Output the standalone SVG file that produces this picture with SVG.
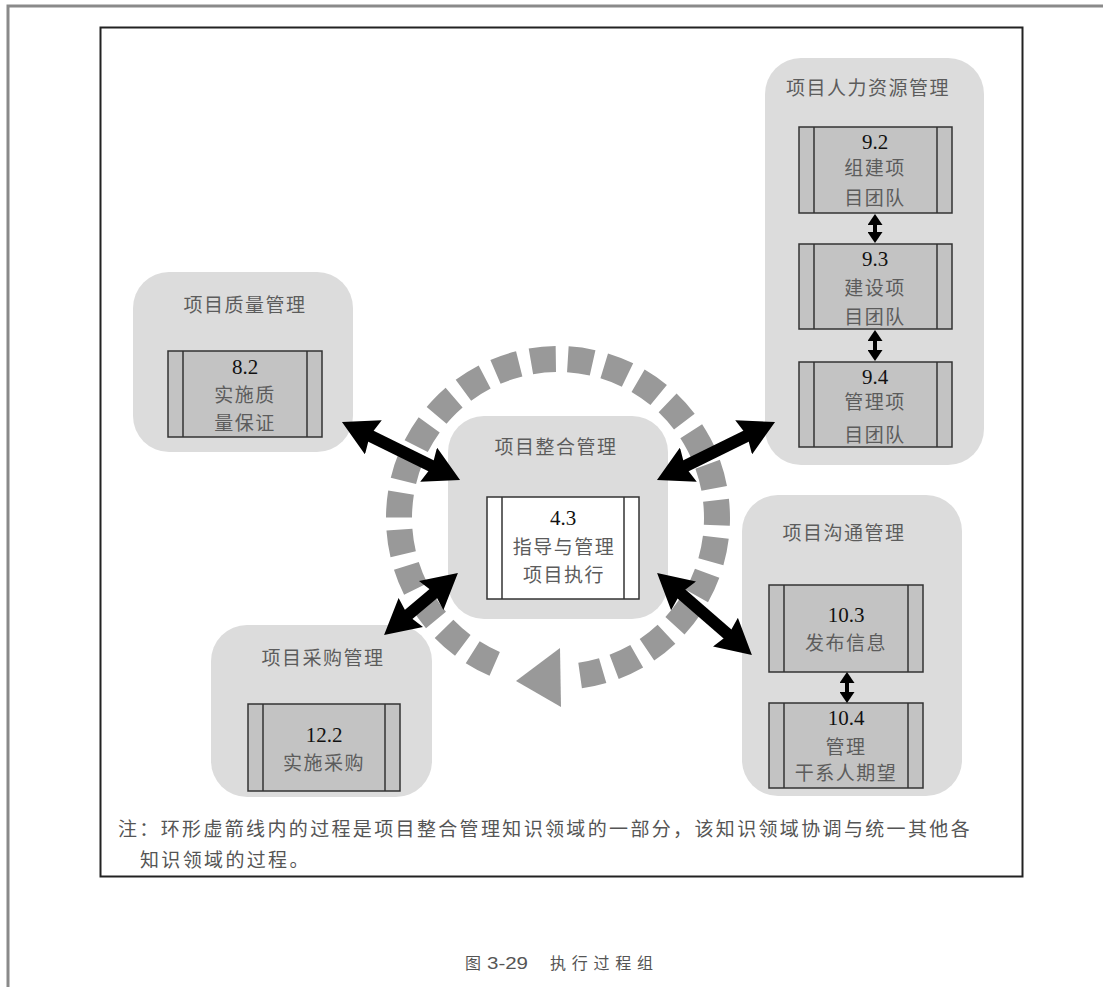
<svg xmlns="http://www.w3.org/2000/svg" width="1103" height="987" viewBox="0 0 1103 987">
<style>
.grp{fill:#dcdcdc;}
.box{fill:#c3c3c3;stroke:#333;stroke-width:1.5;}
.wbox{fill:#ffffff;stroke:#333;stroke-width:1.5;}
.band{stroke:#333;stroke-width:1.5;}
.cjk{font-family:"Noto Sans CJK SC","Noto Sans",sans-serif;font-size:19px;fill:#5c5c5c;text-anchor:middle;letter-spacing:1.5px;}
.num{font-family:"Liberation Serif",serif;font-size:21px;fill:#111;text-anchor:middle;}
.note{font-family:"Noto Sans CJK SC","Noto Sans",sans-serif;font-size:19px;fill:#555;letter-spacing:2.35px;}
.cap{font-family:"Noto Sans CJK SC","Noto Sans",sans-serif;font-size:16px;fill:#555;}
.big{stroke:#000;stroke-width:12;fill:none;}
.small{stroke:#000;stroke-width:4;fill:none;}
</style>
<defs>
<marker id="bigHead" markerUnits="userSpaceOnUse" markerWidth="35" markerHeight="38" viewBox="0 0 35 38" refX="10" refY="19" orient="auto-start-reverse">
<path d="M0,0 L35,19 L0,38 L4,19 Z" fill="#000"/>
</marker>
<marker id="smallHead" markerUnits="userSpaceOnUse" markerWidth="11" markerHeight="15" viewBox="0 0 11 15" refX="4" refY="7.5" orient="auto-start-reverse">
<path d="M0,0 L11,7.5 L0,15 Z" fill="#000"/>
</marker>
</defs>
<rect x="0" y="0" width="1103" height="987" fill="#ffffff"/>
<path d="M8,987 L8,6 L1103,6" fill="none" stroke="#8a8a8a" stroke-width="3"/>
<rect x="100.5" y="27.5" width="922" height="849" fill="#ffffff" stroke="#222" stroke-width="2"/>

<g id="cycle">
<path d="M494.7,663.9 A159,159 0 1 1 580.1,675.5" fill="none" stroke="#999" stroke-width="26" stroke-dasharray="25 12"/>
<path d="M560,648 L561,707 L516,681 Z" fill="#999"/>
</g>

<g id="quality">
<rect class="grp" x="133" y="272" width="220" height="180" rx="36"/>
<text class="cjk" x="245" y="312">项目质量管理</text>
<rect class="box" x="168" y="351" width="154" height="86"/>
<line class="band" x1="183" y1="351" x2="183" y2="437"/>
<line class="band" x1="307" y1="351" x2="307" y2="437"/>
<text class="num" x="245" y="374">8.2</text>
<text class="cjk" x="245" y="402">实施质</text>
<text class="cjk" x="245" y="430">量保证</text>
</g>

<g id="hr">
<rect class="grp" x="765" y="58" width="219" height="407" rx="36"/>
<text class="cjk" x="868" y="95">项目人力资源管理</text>
<rect class="box" x="799" y="127" width="153" height="86"/>
<line class="band" x1="814" y1="127" x2="814" y2="213"/>
<line class="band" x1="937" y1="127" x2="937" y2="213"/>
<text class="num" x="875" y="149">9.2</text>
<text class="cjk" x="875" y="175">组建项</text>
<text class="cjk" x="875" y="205">目团队</text>
<rect class="box" x="799" y="244" width="153" height="85"/>
<line class="band" x1="814" y1="244" x2="814" y2="329"/>
<line class="band" x1="937" y1="244" x2="937" y2="329"/>
<text class="num" x="875" y="266">9.3</text>
<text class="cjk" x="875" y="295">建设项</text>
<text class="cjk" x="875" y="324">目团队</text>
<rect class="box" x="799" y="362" width="153" height="85"/>
<line class="band" x1="814" y1="362" x2="814" y2="447"/>
<line class="band" x1="937" y1="362" x2="937" y2="447"/>
<text class="num" x="875" y="384">9.4</text>
<text class="cjk" x="875" y="409">管理项</text>
<text class="cjk" x="875" y="442">目团队</text>
</g>

<g id="integration">
<rect class="grp" x="448" y="416" width="220" height="203" rx="36"/>
<text class="cjk" x="556" y="454">项目整合管理</text>
<rect class="wbox" x="487" y="497" width="152" height="102"/>
<line class="band" x1="502" y1="497" x2="502" y2="599"/>
<line class="band" x1="624" y1="497" x2="624" y2="599"/>
<text class="num" x="563" y="525">4.3</text>
<text class="cjk" x="564" y="554">指导与管理</text>
<text class="cjk" x="564" y="582">项目执行</text>
</g>

<g id="communication">
<rect class="grp" x="742" y="495" width="220" height="301" rx="36"/>
<text class="cjk" x="844" y="540">项目沟通管理</text>
<rect class="box" x="769" y="585" width="154" height="87"/>
<line class="band" x1="784" y1="585" x2="784" y2="672"/>
<line class="band" x1="908" y1="585" x2="908" y2="672"/>
<text class="num" x="846" y="622">10.3</text>
<text class="cjk" x="846" y="650">发布信息</text>
<rect class="box" x="769" y="703" width="154" height="85"/>
<line class="band" x1="784" y1="703" x2="784" y2="788"/>
<line class="band" x1="908" y1="703" x2="908" y2="788"/>
<text class="num" x="846" y="725">10.4</text>
<text class="cjk" x="846" y="754">管理</text>
<text class="cjk" x="846" y="780">干系人期望</text>
</g>

<g id="procurement">
<rect class="grp" x="211" y="625" width="221" height="172" rx="36"/>
<text class="cjk" x="323" y="665">项目采购管理</text>
<rect class="box" x="248" y="704" width="152" height="87"/>
<line class="band" x1="263" y1="704" x2="263" y2="791"/>
<line class="band" x1="385" y1="704" x2="385" y2="791"/>
<text class="num" x="324" y="742">12.2</text>
<text class="cjk" x="324" y="770">实施采购</text>
</g>

<g id="connectors">
<line class="big" x1="364.4" y1="433" x2="437.6" y2="469" marker-start="url(#bigHead)" marker-end="url(#bigHead)"/>
<line class="big" x1="679.4" y1="469" x2="752.6" y2="433" marker-start="url(#bigHead)" marker-end="url(#bigHead)"/>
<line class="big" x1="403.2" y1="619" x2="438.8" y2="589" marker-start="url(#bigHead)" marker-end="url(#bigHead)"/>
<line class="big" x1="676" y1="589.3" x2="733" y2="638.7" marker-start="url(#bigHead)" marker-end="url(#bigHead)"/>
<line class="small" x1="875" y1="221" x2="875" y2="236" marker-start="url(#smallHead)" marker-end="url(#smallHead)"/>
<line class="small" x1="875" y1="337" x2="875" y2="354" marker-start="url(#smallHead)" marker-end="url(#smallHead)"/>
<line class="small" x1="847" y1="679" x2="847" y2="696" marker-start="url(#smallHead)" marker-end="url(#smallHead)"/>
</g>

<g id="note">
<text class="note" x="118" y="836">注：环形虚箭线内的过程是项目整合管理知识领域的一部分，该知识领域协调与统一其他各</text>
<text class="note" x="140" y="867">知识领域的过程。</text>
</g>

<g id="caption">
<text class="cap" x="465" y="969">图</text>
<text class="cap" x="487" y="969" textLength="41" lengthAdjust="spacingAndGlyphs" style="font-family:'Liberation Sans',sans-serif">3-29</text>
<text class="cap" x="550" y="969" textLength="103">执行过程组</text>
</g>
</svg>
